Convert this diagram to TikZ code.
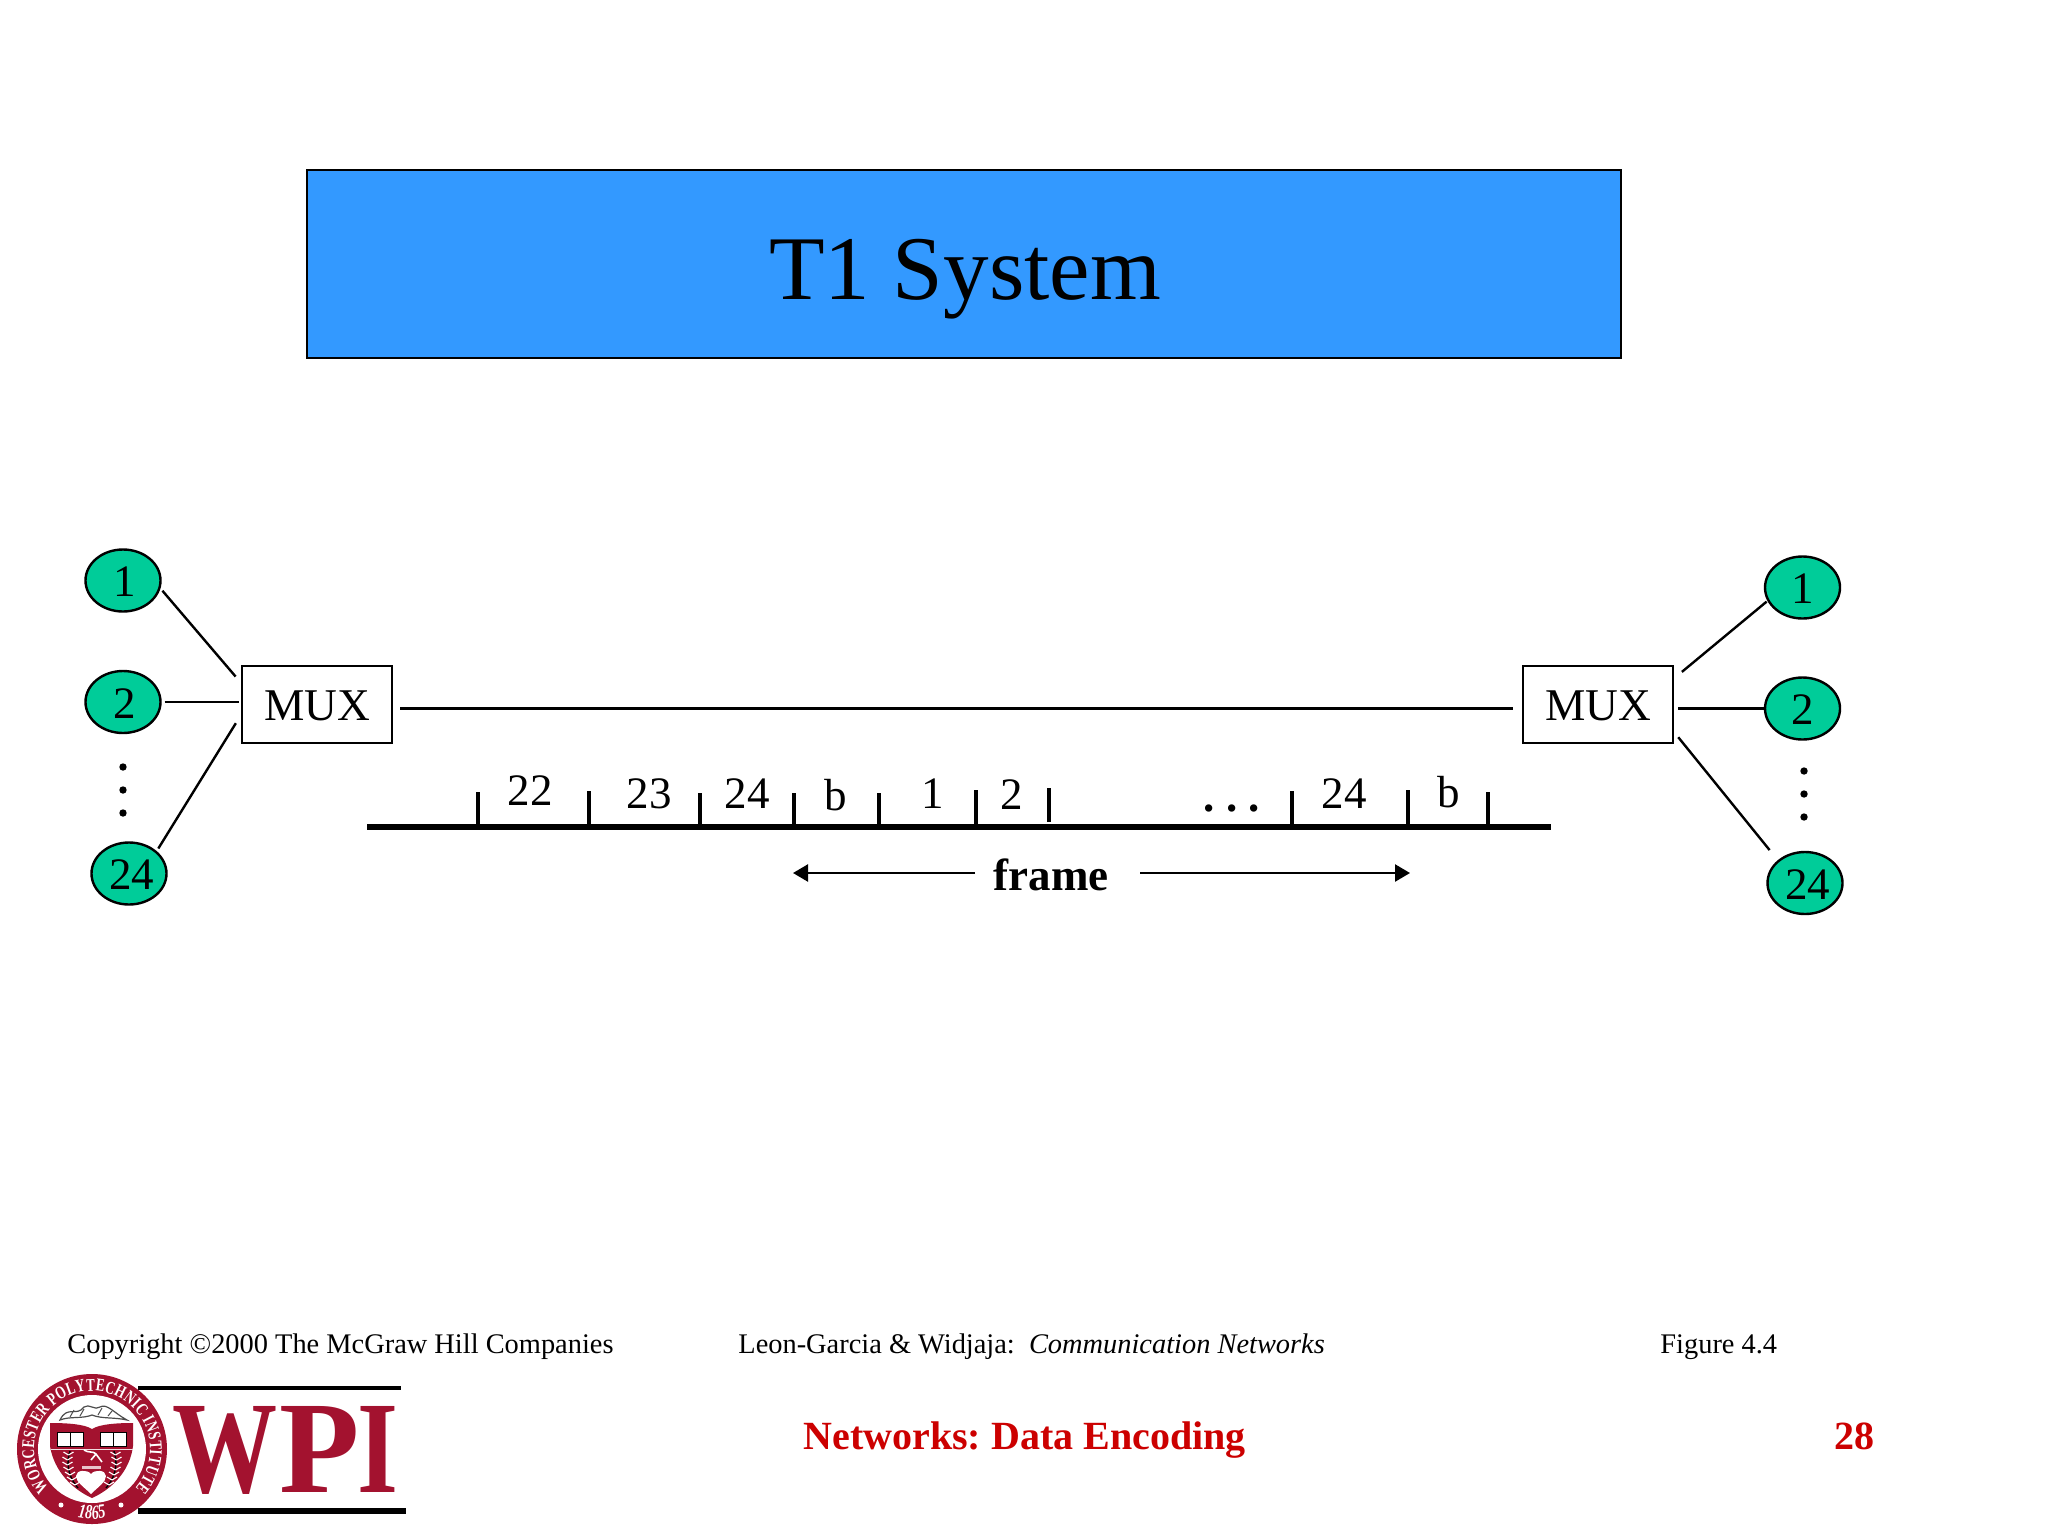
\documentclass[tikz,border=0pt]{standalone}
\usepackage{fontspec}
\setmainfont{Liberation Serif}
\newfontfamily\sealfont[FakeStretch=0.72]{Liberation Serif Bold}
\usetikzlibrary{shapes.geometric,decorations.text,arrows.meta}
\definecolor{titleblue}{HTML}{3399FF}
\definecolor{termgreen}{HTML}{00CC99}
\definecolor{footred}{HTML}{CC0000}
\definecolor{crimson}{HTML}{A3122F}
\newcommand{\fs}[1]{\fontsize{#1}{#1}\selectfont}
\tikzset{
  x=0.5pt,y=-0.5pt,
  term/.style={ellipse,draw=black,line width=1.2pt,fill=termgreen,minimum width=37.5pt,minimum height=31pt,inner sep=0pt,text height=16pt,text depth=0pt,font=\fs{22.5}},
  muxbox/.style={rectangle,draw=black,line width=1.2pt,fill=white,minimum width=75pt,minimum height=38.5pt,inner sep=0pt,text height=16pt,text depth=0pt,font=\fs{22.7}},
  conn/.style={line width=1.2pt,draw=black},
  frameline/.style={line width=1.2pt,draw=black,-{Triangle[length=7.5pt,width=8.5pt]}},
  slot/.style={anchor=base,inner sep=0pt,font=\fs{22.5}},
  tick/.style={line width=2.4pt,draw=black},
  foot/.style={anchor=base west,inner sep=0pt,font=\fs{14.2}},
  redfoot/.style={anchor=base west,inner sep=0pt,font=\fs{20}\bfseries,text=footred},
  bigletter/.style={anchor=base,inner sep=0pt,font=\fs{65.7}\bfseries,text=crimson},
  leaf/.style={line width=0.55pt,draw=white},
}
\begin{document}
\frenchspacing
\begin{tikzpicture}
\useasboundingbox[fill=white] (0,0) rectangle (2048,1536);

% title
\node[draw=black,line width=0.9pt,fill=titleblue,minimum width=657pt,minimum height=94pt,inner sep=0pt] (titlebox) at (964,264) {};
\node[anchor=base,inner sep=0pt,font=\fs{45.5}] (titletext) at (965,299) {T1 System};

% left side
\node[term] (l1) at (123,580.5) {\hspace*{2pt}1};
\node[term] (l2) at (123,702) {\hspace*{2pt}2};
\node[term] (l24) at (129,873.5) {\hspace*{2.5pt}24};
\node[muxbox] (ml) at (317,704.5) {MUX};
\foreach \y in {767,790,813}{\fill (123,\y) circle[radius=3.7];}

% right side
\node[term] (r1) at (1802.5,587.5) {1};
\node[term] (r2) at (1802.5,708.5) {2};
\node[term] (r24) at (1805,883) {\hspace*{2.5pt}24};
\node[muxbox] (mr) at (1598,704.5) {MUX};
\foreach \y in {771,794,817}{\fill (1804,\y) circle[radius=3.7];}

% connectors
\draw[conn,shorten <=1.5pt,shorten >=4pt] (l1.-12) -- (ml.164);
\draw[conn,shorten <=1.5pt,shorten >=1pt] (l2.east) -- (l2.east -| ml.west);
\draw[conn,shorten <=1.5pt,shorten >=4.7pt] (l24.39) -- (ml.188.7);
\draw[conn,shorten <=3.5pt,shorten >=4.5pt] (ml.-3.4) -- (mr.183.4);
\draw[conn,shorten <=5pt,shorten >=0.5pt] (mr.19.7) -- (r1.201);
\draw[conn,shorten <=2pt,shorten >=0pt] (r2.west -| mr.east) -- (r2.west);
\draw[conn,shorten <=3.2pt,shorten >=6.5pt] (mr.-20) -- (r24.140);

% time line
\coordinate (barl) at (367,827);
\coordinate (barr) at (1551,827);
\draw[line width=3pt] (barl) -- (barr);
\foreach \x/\t in {478/792,589/791,700/793,794/793,879/793,976/790,1292/791,1408/790,1488/792}{
  \draw[tick] (\x,\t) -- (\x,827);
}
\draw[tick] (1049,788) -- (1049,822);
\node[slot] (s22) at (530,805) {22};
\node[slot] (s23) at (649,808) {23};
\node[slot] (s24) at (747,808) {24};
\node[slot] (sb) at (836,810) {b};
\node[slot] (s1) at (933,808) {1};
\node[slot] (s2) at (1012,809) {2};
\node[slot,font=\fs{22.5}\bfseries] (sdots) at (1232,811) {.\hspace{5.6pt}.\hspace{5.6pt}.};
\node[slot] (s24b) at (1344,808) {24};
\node[slot] (sbb) at (1449,807) {b};

% frame
\node[anchor=base,inner sep=0pt,font=\fs{22.5}\bfseries] (frame) at (1051,890) {frame};
\coordinate (fl) at (793,873);
\coordinate (fls) at (975,873);
\coordinate (frs) at (1140,873);
\coordinate (fr) at (1410,873);
\draw[frameline] (fls) -- (fl);
\draw[frameline] (frs) -- (fr);

% footer
\node[foot] (copy) at (67,1353) {Copyright ©2000 The McGraw Hill Companies};
\node[foot] (book) at (738,1353) {Leon-Garcia \& Widjaja:\ \ \textit{Communication Networks}};
\node[foot] (fig) at (1660,1353) {Figure 4.4};
\node[redfoot] (chap) at (803,1449) {Networks: Data Encoding};
\node[redfoot] (page) at (1834,1449) {28};

% logo: rules and letters
\fill[black] (138,1386) rectangle (401,1390);
\fill[black] (138,1508) rectangle (406,1514);
\node[bigletter,xscale=0.8] (wW) at (225,1492) {W};
\node[bigletter] (wP) at (320,1492) {P};
\node[bigletter,xscale=0.8] (wI) at (378,1492) {I};

% logo: seal (local axes, y upward, origin at the centre)
\begin{scope}[shift={(92,1449)},x=0.5pt,y=0.5pt]
  \fill[crimson] (0,0) circle[radius=75];
  \fill[white] (0,0) circle[radius=54];
  \path[postaction={decorate},decoration={text along path,text align=fit to path,
     text={|\sealfont\fs{9}\color{white}|WORCESTER POLYTECHNIC INSTITUTE}}]
     (222:58) arc[start angle=222,end angle=-42,radius=58];
  \path[postaction={decorate},decoration={text along path,text align=center,
     text={|\sealfont\fs{10}\itshape\color{white}|1865}}]
     (240:70) arc[start angle=240,end angle=300,radius=70];
  \fill[white] (-31,-56) circle[radius=2.5];
  \fill[white] (29,-56) circle[radius=2.5];
  % shield
  \fill[crimson] (-42,26) .. controls (-25,26) and (-8,25) .. (0,20) .. controls (8,25) and (25,26) .. (41,26)
     -- (41,3) .. controls (38,-22) and (20,-40) .. (0,-49) .. controls (-20,-40) and (-38,-22) .. (-42,3) -- cycle;
  % books
  \foreach \cx in {-22,21}{
    \fill[white] (\cx-13,3) rectangle (\cx+13,17);
    \draw[black,line width=0.5pt] (\cx-13,3) rectangle (\cx+13,17) (\cx,3) -- (\cx,17);
  }
  \draw[white!85!crimson,line width=0.4pt] (-41,0) -- (41,0);
  % sprigs
  \foreach \s in {-1,1}{
    \draw[black,line width=0.7pt] (\s*14,-39) .. controls (\s*24,-28) and (\s*26,-14) .. (\s*22,-2);
    \foreach \yy/\xx in {-36/17,-31/20,-26/22,-21/23.5,-16/24.5,-11/24.5,-6/23.5}{
      \draw[leaf] (\s*\xx,\yy) -- ++(\s*5,3);
      \draw[leaf] (\s*\xx,\yy) -- ++(-\s*5,3);
    }
  }
  % lamp and bar
  \draw[white,line width=0.8pt] (-8,-1) .. controls (-4,-4) and (2,-2) .. (4,-5) -- (10,-13) (4,-5) -- (-1,-11);
  \fill[white!75!crimson] (-10,-20) rectangle (9,-17);
  % heart
  \fill[white] (-1,-45) .. controls (-8,-38) and (-16,-33) .. (-16,-27) .. controls (-16,-21) and (-5,-20) .. (-1,-25)
     .. controls (3,-20) and (14,-21) .. (14,-27) .. controls (14,-33) and (6,-38) .. (-1,-45) -- cycle;
  % scroll
  \draw[black!70,line width=0.6pt,fill=white] (-32,29) .. controls (-25,44) and (-15,32) .. (-8,42)
     .. controls (-3,46) and (3,38) .. (8,42) .. controls (15,46) and (22,36) .. (35,29)
     .. controls (22,32) and (10,30) .. (0,34) .. controls (-10,30) and (-22,33) .. (-32,29) -- cycle;
  \draw[black!70,line width=0.5pt] (-22,32) -- (-18,39) (-12,33) -- (-8,40) (6,34) -- (10,41) (16,33) -- (20,38);
\end{scope}
\end{tikzpicture}
\end{document}
